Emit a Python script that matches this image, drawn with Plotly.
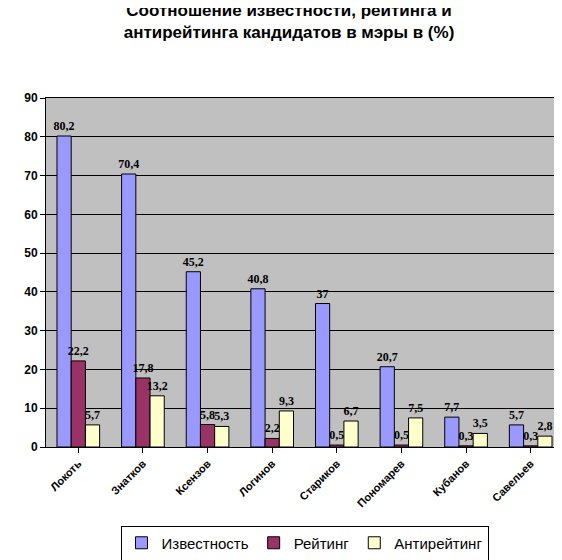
import plotly.graph_objects as go

categories = ["Локоть", "Знатков", "Ксензов", "Логинов", "Стариков", "Пономарев", "Кубанов", "Савельев"]
izv = [80.2, 70.4, 45.2, 40.8, 37, 20.7, 7.7, 5.7]
reit = [22.2, 17.8, 5.8, 2.2, 0.5, 0.5, 0.3, 0.3]
anti = [5.7, 13.2, 5.3, 9.3, 6.7, 7.5, 3.5, 2.8]

def lbl(v):
    return ["<b>" + str(x).replace(".", ",") + "</b>" for x in v]

fig = go.Figure()
for name, vals, col in [("Известность", izv, "#9999FF"), ("Рейтинг", reit, "#993366"), ("Антирейтинг", anti, "#FFFFCC")]:
    fig.add_trace(go.Bar(x=["<b>" + c + "</b>" for c in categories], y=vals, name=name,
                         marker=dict(color=col, line=dict(color="black", width=1)),
                         text=lbl(vals), textposition="outside", cliponaxis=False,
                         textfont=dict(family="Liberation Serif", size=12, color="black")))

fig.update_layout(
    width=562, height=560,
    margin=dict(l=38, r=7, t=90, b=104),
    paper_bgcolor="white", plot_bgcolor="#C0C0C0",
    bargap=0.34, bargroupgap=0,
    uniformtext=dict(minsize=12, mode="show"),
    title=dict(text="<b>Соотношение известности, рейтинга и<br>антирейтинга кандидатов в мэры в (%)</b>",
               x=0.5, xanchor="center", y=0.985, yanchor="top",
               font=dict(family="Liberation Sans", size=17, color="black")),
    font=dict(family="Liberation Sans", color="black"),
    legend=dict(orientation="h", x=0.5, xanchor="center", y=-0.225, yanchor="top",
                bordercolor="black", borderwidth=1, font=dict(size=15), traceorder="normal",
                itemwidth=30, tracegroupgap=0),
    showlegend=True,
)
fig.update_xaxes(tickangle=-45, tickfont=dict(size=11, family="Liberation Sans"), showline=True, linecolor="black",
                 ticks="outside", tickcolor="black", mirror=True)
fig.update_yaxes(range=[0, 90], dtick=10, gridcolor="black", gridwidth=1, showline=True, linecolor="black",
                 ticks="outside", tickcolor="black", mirror=True,
                 tickfont=dict(size=12, family="Liberation Sans"), tickprefix="<b>", ticksuffix="</b>",
                 zeroline=False)
fig.write_html("out.html")
